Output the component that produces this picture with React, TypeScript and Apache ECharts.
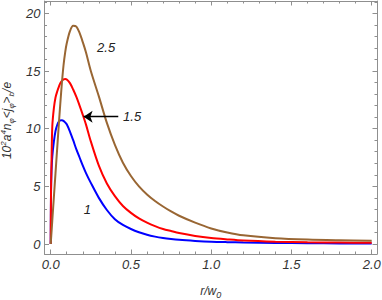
import React, { useEffect, useRef } from "react";
import * as echarts from "echarts";

// radial coordinate r/w0
const rValues = [0, 0.002, 0.005, 0.01, 0.02, 0.03, 0.04, 0.05, 0.06, 0.07, 0.08, 0.09, 0.1, 0.12, 0.14, 0.16, 0.18, 0.2, 0.22, 0.25, 0.3, 0.35, 0.4, 0.45, 0.5, 0.55, 0.6, 0.65, 0.7, 0.75, 0.8, 0.9, 1.0, 1.1, 1.2, 1.4, 1.6, 1.8, 2.0];

// curve "1" (blue)
const curve1 = [0, 4.5, 6.3, 7.6, 8.9, 9.8, 10.3, 10.6, 10.72, 10.74, 10.68, 10.55, 10.38, 9.75, 9.0, 8.2, 7.5, 6.8, 6.15, 5.3, 4.0, 2.95, 2.15, 1.65, 1.3, 1.02, 0.8, 0.64, 0.52, 0.43, 0.36, 0.27, 0.2, 0.16, 0.13, 0.09, 0.07, 0.05, 0.04];
// curve "1.5" (red)
const curve15 = [0, 4.5, 7.0, 10.2, 11.8, 12.7, 13.2, 13.6, 13.95, 14.15, 14.27, 14.3, 14.27, 13.95, 13.4, 12.75, 12.0, 11.2, 10.35, 8.9, 6.8, 5.25, 4.15, 3.3, 2.7, 2.22, 1.85, 1.55, 1.3, 1.12, 0.95, 0.7, 0.52, 0.4, 0.3, 0.2, 0.15, 0.12, 0.1];
// curve "2.5" (brown)
const curve25 = [0, 0.4, 1.0, 2.05, 4.1, 6.15, 8.2, 10.25, 12.2, 14.0, 15.5, 16.6, 17.4, 18.45, 18.92, 18.85, 18.3, 17.5, 16.6, 15.0, 12.8, 10.5, 8.6, 7.05, 5.9, 5.0, 4.3, 3.73, 3.25, 2.82, 2.45, 1.85, 1.35, 1.0, 0.75, 0.5, 0.38, 0.32, 0.28];

const xMajorTicks = [0, 0.5, 1.0, 1.5, 2.0];
const xMinorTicks = [0.1, 0.2, 0.3, 0.4, 0.6, 0.7, 0.8, 0.9, 1.1, 1.2, 1.3, 1.4, 1.6, 1.7, 1.8, 1.9];
const yMajorTicks = [0, 5, 10, 15, 20];
const yMinorTicks = [1, 2, 3, 4, 6, 7, 8, 9, 11, 12, 13, 14, 16, 17, 18, 19, 21];

// annotation positions in data coordinates
const label1 = { text: "1", r: 0.229, v: 3.03 };
const label15 = { text: "1.5", r: 0.507, v: 11.05 };
const label25 = { text: "2.5", r: 0.345, v: 17.04 };
const arrowFrom = [0.421, 11.04];
const arrowTo = [0.205, 11.04];

const X_MIN = -0.0386;
const X_MAX = 2.033;
const Y_MIN = -0.867;
const Y_MAX = 21.07;

const FONT = "Liberation Sans, Arial, sans-serif";
const FRAME = "#8f8f8f";
const TEXT = "#333";

function pairs(ys: number[]) {
  return rValues.map((r, i) => [r, ys[i]]);
}

function xAxisDef(position: "top" | "bottom", ticks: number[], len: number, withLabels: boolean, withLine: boolean, extra: any = {}) {
  return {
    type: "value",
    min: X_MIN,
    max: X_MAX,
    position,
    offset: 0,
    axisLine: { show: withLine, onZero: false, lineStyle: { color: FRAME, width: 1 } },
    axisTick: { show: true, inside: true, length: len, customValues: ticks, lineStyle: { color: FRAME, width: 1 } },
    axisLabel: withLabels
      ? { show: true, customValues: ticks, margin: 4, fontFamily: FONT, fontStyle: "italic", fontSize: 13, color: TEXT, formatter: (v: number) => v.toFixed(1) }
      : { show: false },
    splitLine: { show: false },
    ...extra,
  };
}

function yAxisDef(position: "left" | "right", ticks: number[], len: number, withLabels: boolean, withLine: boolean, extra: any = {}) {
  return {
    type: "value",
    min: Y_MIN,
    max: Y_MAX,
    position,
    offset: 0,
    axisLine: { show: withLine, onZero: false, lineStyle: { color: FRAME, width: 1 } },
    axisTick: { show: true, inside: true, length: len, customValues: ticks, lineStyle: { color: FRAME, width: 1 } },
    axisLabel: withLabels
      ? { show: true, customValues: ticks, margin: 4, fontFamily: FONT, fontStyle: "italic", fontSize: 13, color: TEXT, formatter: (v: number) => String(v) }
      : { show: false },
    splitLine: { show: false },
    ...extra,
  };
}

function annotation(l: { text: string; r: number; v: number }) {
  return {
    symbol: "circle",
    symbolSize: 0,
    silent: true,
    itemStyle: { color: "transparent" },
    label: { show: true, position: "inside", formatter: l.text, fontFamily: FONT, fontStyle: "italic", fontSize: 13, color: "#222" },
    data: [{ coord: [l.r, l.v] }],
  };
}

export default function App() {
  const ref = useRef<HTMLDivElement>(null);
  useEffect(() => {
    if (!ref.current) return;
    const chart = echarts.init(ref.current, null, { renderer: "svg" });
    const lineBase = { type: "line", showSymbol: false, smooth: 0.3, xAxisIndex: 0, yAxisIndex: 0 };
    chart.setOption({
      animation: false,
      backgroundColor: "#fff",
      grid: { left: 44.5, right: 5, top: 1, bottom: 46, containLabel: false, outerBoundsMode: "none" },
      xAxis: [
        xAxisDef("bottom", xMajorTicks, 4.5, true, true, {
          name: "r/w{sub|0}",
          nameLocation: "middle",
          nameGap: 29,
          nameTextStyle: {
            fontFamily: FONT, fontStyle: "italic", fontSize: 12, color: TEXT,
            rich: { sub: { fontFamily: FONT, fontStyle: "italic", fontSize: 9, color: TEXT, verticalAlign: "bottom", lineHeight: 16 } },
          },
        }),
        xAxisDef("bottom", xMinorTicks, 2.5, false, false),
        xAxisDef("top", xMajorTicks, 4.5, false, true),
        xAxisDef("top", xMinorTicks, 2.5, false, false),
      ],
      yAxis: [
        yAxisDef("left", yMajorTicks, 4.5, true, true, {
          name: "10{sup|2}a{sup|4}n{sub|φ}<j{sub|φ}>{sub|b}/e",
          nameLocation: "middle",
          nameRotate: 90,
          nameGap: 24,
          nameTextStyle: {
            fontFamily: FONT, fontStyle: "italic", fontSize: 12, color: TEXT, lineHeight: 16,
            padding: [0, 0, 0, 14],
            rich: {
              sup: { fontFamily: FONT, fontStyle: "italic", fontSize: 8, color: TEXT, verticalAlign: "top", lineHeight: 16 },
              sub: { fontFamily: FONT, fontStyle: "italic", fontSize: 8, color: TEXT, verticalAlign: "bottom", lineHeight: 16 },
            },
          },
        }),
        yAxisDef("left", yMinorTicks, 2.5, false, false),
        yAxisDef("right", yMajorTicks, 4.5, false, true),
        yAxisDef("right", yMinorTicks, 2.5, false, false),
      ],
      series: [
        { ...lineBase, name: "1", data: pairs(curve1), lineStyle: { color: "#0000ff", width: 2 }, itemStyle: { color: "#0000ff" }, markPoint: annotation(label1) },
        {
          ...lineBase, name: "1.5", data: pairs(curve15), lineStyle: { color: "#ff0000", width: 2 }, itemStyle: { color: "#ff0000" },
          markPoint: annotation(label15),
          markLine: {
            silent: true,
            symbol: ["none", "arrow"],
            symbolSize: 9,
            lineStyle: { color: "#000", width: 1.3, type: "solid" },
            label: { show: false },
            data: [[{ coord: arrowFrom }, { coord: arrowTo }]],
          },
        },
        { ...lineBase, name: "2.5", data: pairs(curve25), lineStyle: { color: "#996633", width: 2 }, itemStyle: { color: "#996633" }, markPoint: annotation(label25) },
      ],
    });
    return () => chart.dispose();
  }, []);
  return <div ref={ref} style={{ position: "absolute", left: 0, top: 0, width: 382, height: 300 }} />;
}
